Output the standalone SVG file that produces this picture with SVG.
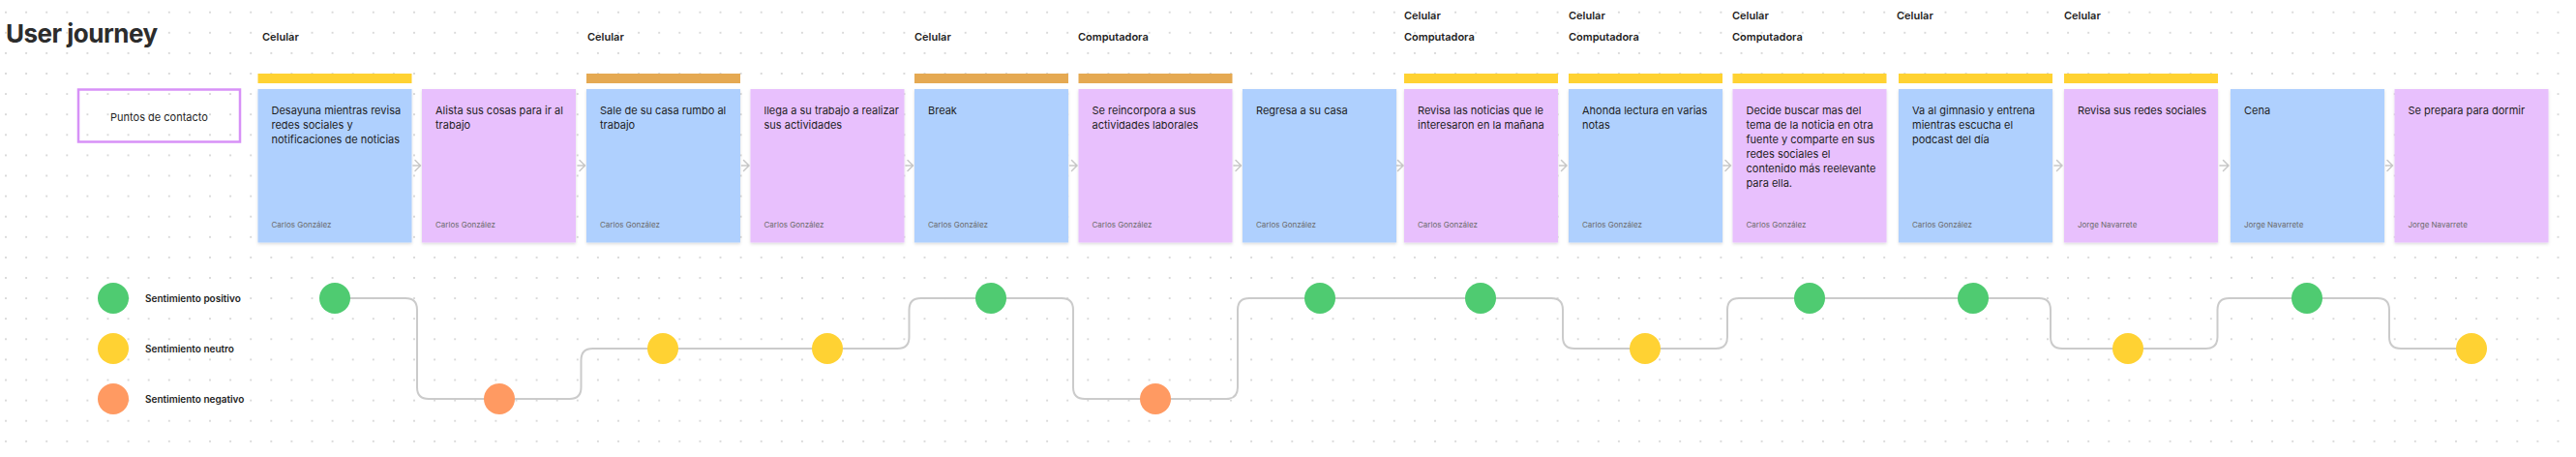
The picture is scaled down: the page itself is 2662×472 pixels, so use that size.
<svg xmlns="http://www.w3.org/2000/svg" width="2662" height="472" viewBox="0 0 2662 472">
<defs>
<pattern id="dots" x="-4.55" y="2.15" width="21.1" height="21.1" patternUnits="userSpaceOnUse">
<circle cx="10.55" cy="10.55" r="0.9" fill="#c9c9c9"/>
</pattern>
<filter id="sh" x="-10%" y="-10%" width="120%" height="125%">
<feDropShadow dx="0" dy="1.5" stdDeviation="1.5" flood-color="#000" flood-opacity="0.14"/>
</filter>
<style>
text{font-family:Inter,"Liberation Sans",sans-serif;}
.title{font-size:26px;font-weight:700;fill:#2c2c2c;letter-spacing:-0.5px;}
.hdr{font-size:11px;font-weight:600;fill:#1e1e1e;}
.ct{font-size:11px;fill:#1e1e1e;}
.au{font-size:8px;fill:#6b6b6b;}
.leg{font-size:10px;font-weight:600;fill:#1e1e1e;}
.blue{fill:#AFD0FE;filter:url(#sh);}
.purple{fill:#E8C0FD;filter:url(#sh);}
.ybar{fill:#FFD232;}
.obar{fill:#E5A952;}
.pos{fill:#4FCB71;}
.neu{fill:#FFD233;}
.neg{fill:#FF9A62;}
.path{fill:none;stroke:#CBCBCB;stroke-width:2;}
.arr{fill:none;stroke:#C8C8C8;stroke-width:1.5;stroke-linecap:round;stroke-linejoin:round;}
</style>
</defs>
<rect width="2662" height="472" fill="#ffffff"/>
<rect width="2662" height="472" fill="url(#dots)"/>

<text class="title" x="6" y="44">User journey</text>

<g id="touchpoints">
<rect x="81" y="92.5" width="167" height="54" fill="none" stroke="#D791F7" stroke-width="2.5"/>
<text class="ct" x="164.5" y="124.5" text-anchor="middle">Puntos de contacto</text>
</g>

<g id="headers">
<text class="hdr" x="271" y="42">Celular</text>
<text class="hdr" x="607" y="42">Celular</text>
<text class="hdr" x="945" y="42">Celular</text>
<text class="hdr" x="1114" y="42">Computadora</text>
<text class="hdr" x="1451" y="20">Celular</text>
<text class="hdr" x="1451" y="42">Computadora</text>
<text class="hdr" x="1621" y="20">Celular</text>
<text class="hdr" x="1621" y="42">Computadora</text>
<text class="hdr" x="1790" y="20">Celular</text>
<text class="hdr" x="1790" y="42">Computadora</text>
<text class="hdr" x="1960" y="20">Celular</text>
<text class="hdr" x="2133" y="20">Celular</text>
</g>

<g id="bars">
<rect class="ybar" x="266.5" y="76" width="159" height="10"/>
<rect class="obar" x="606" y="76" width="159" height="10"/>
<rect class="obar" x="945" y="76" width="159" height="10"/>
<rect class="obar" x="1114.5" y="76" width="159" height="10"/>
<rect class="ybar" x="1451" y="76" width="159" height="10"/>
<rect class="ybar" x="1621" y="76" width="159" height="10"/>
<rect class="ybar" x="1790.5" y="76" width="159" height="10"/>
<rect class="ybar" x="1962" y="76" width="159" height="10"/>
<rect class="ybar" x="2133" y="76" width="159" height="10"/>
</g>

<g id="connectors">
<path class="arr" d="M427 171 H434 M429 165.5 L434.5 171 L429 176.5"/>
<path class="arr" d="M597 171 H604 M599 165.5 L604.5 171 L599 176.5"/>
<path class="arr" d="M766.5 171 H773.5 M768.5 165.5 L774 171 L768.5 176.5"/>
<path class="arr" d="M936 171 H943 M938 165.5 L943.5 171 L938 176.5"/>
<path class="arr" d="M1105.5 171 H1112.5 M1107.5 165.5 L1113 171 L1107.5 176.5"/>
<path class="arr" d="M1275 171 H1282 M1277 165.5 L1282.5 171 L1277 176.5"/>
<path class="arr" d="M1443.5 171 H1449.5 M1444.5 165.5 L1450 171 L1444.5 176.5"/>
<path class="arr" d="M1611.5 171 H1619 M1613.5 165.5 L1619 171 L1613.5 176.5"/>
<path class="arr" d="M1781 171 H1788.5 M1783 165.5 L1788.5 171 L1783 176.5"/>
<path class="arr" d="M2123 171 H2131 M2125.5 165.5 L2131 171 L2125.5 176.5"/>
<path class="arr" d="M2294 171 H2303 M2297.5 165.5 L2303 171 L2297.5 176.5"/>
<path class="arr" d="M2465.5 171 H2472.5 M2467 165.5 L2472.5 171 L2467 176.5"/>

<path class="path" d="M346 308 H419 Q431 308 431 320 V400 Q431 412 443 412 H516"/>
<path class="path" d="M516 412 H588.5 Q600.5 412 600.5 400 V372 Q600.5 360 612.5 360 H685"/>
<path class="path" d="M685 360 H855"/>
<path class="path" d="M855 360 H927.5 Q939.5 360 939.5 348 V320 Q939.5 308 951.5 308 H1024"/>
<path class="path" d="M1024 308 H1097 Q1109 308 1109 320 V400 Q1109 412 1121 412 H1194"/>
<path class="path" d="M1194 412 H1267 Q1279 412 1279 400 V320 Q1279 308 1291 308 H1364"/>
<path class="path" d="M1364 308 H1530"/>
<path class="path" d="M1530 308 H1603 Q1615 308 1615 320 V348 Q1615 360 1627 360 H1700"/>
<path class="path" d="M1700 360 H1773 Q1785 360 1785 348 V320 Q1785 308 1797 308 H1870"/>
<path class="path" d="M1870 308 H2039"/>
<path class="path" d="M2039 308 H2107 Q2119 308 2119 320 V348 Q2119 360 2131 360 H2199"/>
<path class="path" d="M2199 360 H2279.5 Q2291.5 360 2291.5 348 V320 Q2291.5 308 2303.5 308 H2384"/>
<path class="path" d="M2384 308 H2457 Q2469 308 2469 320 V348 Q2469 360 2481 360 H2554"/>
</g>

<g id="card1"><rect class="blue" x="266.5" y="92" width="159" height="158.5"/>
<text class="ct" x="280.5" y="118">Desayuna mientras revisa</text>
<text class="ct" x="280.5" y="133">redes sociales y</text>
<text class="ct" x="280.5" y="148">notificaciones de noticias</text>
<text class="au" x="280.5" y="235">Carlos González</text></g>

<g id="card2"><rect class="purple" x="436" y="92" width="159" height="158.5"/>
<text class="ct" x="450" y="118">Alista sus cosas para ir al</text>
<text class="ct" x="450" y="133">trabajo</text>
<text class="au" x="450" y="235">Carlos González</text></g>

<g id="card3"><rect class="blue" x="606" y="92" width="159" height="158.5"/>
<text class="ct" x="620" y="118">Sale de su casa rumbo al</text>
<text class="ct" x="620" y="133">trabajo</text>
<text class="au" x="620" y="235">Carlos González</text></g>

<g id="card4"><rect class="purple" x="775.5" y="92" width="159" height="158.5"/>
<text class="ct" x="789.5" y="118">llega a su trabajo a realizar</text>
<text class="ct" x="789.5" y="133">sus actividades</text>
<text class="au" x="789.5" y="235">Carlos González</text></g>

<g id="card5"><rect class="blue" x="945" y="92" width="159" height="158.5"/>
<text class="ct" x="959" y="118">Break</text>
<text class="au" x="959" y="235">Carlos González</text></g>

<g id="card6"><rect class="purple" x="1114.5" y="92" width="159" height="158.5"/>
<text class="ct" x="1128.5" y="118">Se reincorpora a sus</text>
<text class="ct" x="1128.5" y="133">actividades laborales</text>
<text class="au" x="1128.5" y="235">Carlos González</text></g>

<g id="card7"><rect class="blue" x="1284" y="92" width="159" height="158.5"/>
<text class="ct" x="1298" y="118">Regresa a su casa</text>
<text class="au" x="1298" y="235">Carlos González</text></g>

<g id="card8"><rect class="purple" x="1451" y="92" width="159" height="158.5"/>
<text class="ct" x="1465" y="118">Revisa las noticias que le</text>
<text class="ct" x="1465" y="133">interesaron en la mañana</text>
<text class="au" x="1465" y="235">Carlos González</text></g>

<g id="card9"><rect class="blue" x="1621" y="92" width="159" height="158.5"/>
<text class="ct" x="1635" y="118">Ahonda lectura en varias</text>
<text class="ct" x="1635" y="133">notas</text>
<text class="au" x="1635" y="235">Carlos González</text></g>

<g id="card10"><rect class="purple" x="1790.5" y="92" width="159" height="158.5"/>
<text class="ct" x="1804.5" y="118">Decide buscar mas del</text>
<text class="ct" x="1804.5" y="133">tema de la noticia en otra</text>
<text class="ct" x="1804.5" y="148">fuente y comparte en sus</text>
<text class="ct" x="1804.5" y="163">redes sociales el</text>
<text class="ct" x="1804.5" y="178">contenido más reelevante</text>
<text class="ct" x="1804.5" y="193">para ella.</text>
<text class="au" x="1804.5" y="235">Carlos González</text></g>

<g id="card11"><rect class="blue" x="1962" y="92" width="159" height="158.5"/>
<text class="ct" x="1976" y="118">Va al gimnasio y entrena</text>
<text class="ct" x="1976" y="133">mientras escucha el</text>
<text class="ct" x="1976" y="148">podcast del día</text>
<text class="au" x="1976" y="235">Carlos González</text></g>

<g id="card12"><rect class="purple" x="2133" y="92" width="159" height="158.5"/>
<text class="ct" x="2147" y="118">Revisa sus redes sociales</text>
<text class="au" x="2147" y="235">Jorge Navarrete</text></g>

<g id="card13"><rect class="blue" x="2305" y="92" width="159" height="158.5"/>
<text class="ct" x="2319" y="118">Cena</text>
<text class="au" x="2319" y="235">Jorge Navarrete</text></g>

<g id="card14"><rect class="purple" x="2474.5" y="92" width="159" height="158.5"/>
<text class="ct" x="2488.5" y="118">Se prepara para dormir</text>
<text class="au" x="2488.5" y="235">Jorge Navarrete</text></g>

<g id="legend">
<circle class="pos" cx="117" cy="308" r="16"/>
<text class="leg" x="150" y="311.5">Sentimiento positivo</text>
<circle class="neu" cx="117" cy="360" r="16"/>
<text class="leg" x="150" y="363.5">Sentimiento neutro</text>
<circle class="neg" cx="117" cy="412" r="16"/>
<text class="leg" x="150" y="415.5">Sentimiento negativo</text>
</g>

<g id="sentiments">
<circle id="s1" class="pos" cx="346" cy="308" r="16"/>
<circle id="s2" class="neg" cx="516" cy="412" r="16"/>
<circle id="s3" class="neu" cx="685" cy="360" r="16"/>
<circle id="s4" class="neu" cx="855" cy="360" r="16"/>
<circle id="s5" class="pos" cx="1024" cy="308" r="16"/>
<circle id="s6" class="neg" cx="1194" cy="412" r="16"/>
<circle id="s7" class="pos" cx="1364" cy="308" r="16"/>
<circle id="s8" class="pos" cx="1530" cy="308" r="16"/>
<circle id="s9" class="neu" cx="1700" cy="360" r="16"/>
<circle id="s10" class="pos" cx="1870" cy="308" r="16"/>
<circle id="s11" class="pos" cx="2039" cy="308" r="16"/>
<circle id="s12" class="neu" cx="2199" cy="360" r="16"/>
<circle id="s13" class="pos" cx="2384" cy="308" r="16"/>
<circle id="s14" class="neu" cx="2554" cy="360" r="16"/>
</g>
</svg>
